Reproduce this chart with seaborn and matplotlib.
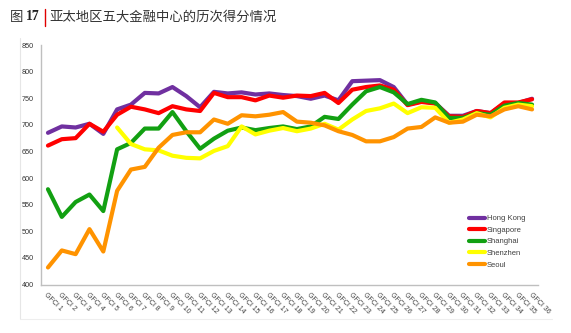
import numpy as np
import pandas as pd
import matplotlib
matplotlib.use("Agg")
import matplotlib.pyplot as plt
from matplotlib.lines import Line2D
import seaborn as sns

# GFCI rounds 1..36
rounds = [f"GFCI {i}" for i in range(1, 37)]

hong_kong = [685, 697, 695, 702, 683, 729, 738, 760, 759, 771, 754, 733,
             762, 759, 761, 757, 759, 756, 754, 749, 755, 746, 782, 783, 784,
             771, 738, 744, 741, 717, 717, 726, 722, 740, 741, 749]
singapore = [661, 673, 675, 702, 687, 719, 734, 729, 722, 735, 729, 726,
             760, 752, 752, 746, 755, 751, 755, 754, 760, 741, 766, 771, 774,
             766, 737, 743, 740, 716, 715, 726, 722, 742, 742, 748]
shanghai = [579, 527, 555, 569, 538, 654, 666, 693, 693, 724, 688, 655,
            674, 689, 695, 690, 694, 697, 692, 697, 715, 711, 738, 763, 771,
            761, 739, 747, 742, 713, 713, 722, 719, 736, 741, 738]
# Shenzhen enters the index from GFCI 6
shenzhen = [np.nan] * 5 + [695, 664, 654, 652, 642, 638, 637,
                           651, 660, 697, 682, 689, 694, 688, 693, 702, 691, 710, 726, 731,
                           740, 722, 733, 732, 704, 710, 722, 714, 732, 738, 735]
seoul = [432, 464, 457, 504, 462, 576, 616, 621, 657, 681, 686, 686,
         710, 702, 718, 716, 719, 724, 706, 704, 699, 688, 681, 669, 669,
         677, 693, 696, 714, 704, 706, 719, 716, 729, 735, 729]

cities = ["Hong Kong", "Singapore", "Shanghai", "Shenzhen", "Seoul"]
series = [hong_kong, singapore, shanghai, shenzhen, seoul]
colors = ["#7030a0", "#ff0000", "#12a012", "#ffff00", "#ff9300"]

rows = []
for city, vals in zip(cities, series):
    for i, v in enumerate(vals):
        if not np.isnan(v):
            rows.append({"idx": i, "city": city, "score": v})
df = pd.DataFrame(rows)

sns.set_theme(style="white")
plt.rcParams["font.family"] = ["Liberation Sans", "Noto Sans CJK SC", "DejaVu Sans"]

W, H = 571, 333
fig = plt.figure(figsize=(W / 100, H / 100), dpi=100)
fig.patch.set_facecolor("white")

ax_l, ax_r, ax_t, ax_b = 40.5, 538, 45, 284.5
ax = fig.add_axes([ax_l / W, 1 - ax_b / H, (ax_r - ax_l) / W, (ax_b - ax_t) / H])

sns.lineplot(data=df, x="idx", y="score", hue="city", hue_order=cities,
             palette=colors, linewidth=3, ax=ax, legend=False)

ax.set_xlim(-0.54, 35.43)
ax.set_ylim(400, 850)
ax.set_yticks(np.arange(400, 851, 50))
ax.set_yticklabels([str(v) for v in range(400, 851, 50)], fontsize=5.2, color="#333333")
ax.set_xticks(range(36))
ax.set_xticklabels(rounds, rotation=-45, ha="left", va="top",
                   rotation_mode="anchor", fontsize=5, color="#404040")
ax.tick_params(axis="y", length=0, pad=5)
ax.tick_params(axis="x", length=0, pad=5)
ax.set_xlabel("")
ax.set_ylabel("")
for side in ("top", "right"):
    ax.spines[side].set_visible(False)
for side in ("left", "bottom"):
    ax.spines[side].set_color("#bfbfbf")
    ax.spines[side].set_linewidth(1.0)

handles = [Line2D([0], [0], color=c, lw=3) for c in colors]
leg = ax.legend(handles, cities, loc="upper left",
                bbox_to_anchor=(469 / W, 1 - 215 / H), bbox_transform=fig.transFigure,
                frameon=False, fontsize=5.5, handlelength=2.1, handletextpad=0.25,
                labelspacing=0.55, borderpad=0, borderaxespad=0)
for t in leg.get_texts():
    t.set_color("#404040")

# faint outer frame on the left and bottom
fig.add_artist(Line2D([20 / W, 20 / W], [1 - 38 / H, 1 - 319 / H],
                      transform=fig.transFigure, color="#e6e6e6", lw=0.8))
fig.add_artist(Line2D([20 / W, 552 / W], [1 - 319 / H, 1 - 319 / H],
                      transform=fig.transFigure, color="#eeeeee", lw=0.8))

# heading
ty = 1 - 17 / H
fig.text(10 / W, ty, "图", fontsize=9.6, color="#333333", va="center", ha="left",
         family=["Noto Sans CJK SC"])
fig.text(26 / W, ty, "17", fontsize=9.8, color="#222222", va="center", ha="left",
         family=["Liberation Serif"], fontweight="bold")
fig.add_artist(Line2D([44.5 / W, 44.5 / W], [1 - 9 / H, 1 - 26 / H],
                      transform=fig.transFigure, color="#e00000", lw=1.0))
fig.text(49 / W, ty, "亚太地区五大金融中心的历次得分情况", fontsize=9.6,
         color="#333333", va="center", ha="left", family=["Noto Sans CJK SC"])

fig.savefig("out.png", dpi=100, facecolor="white")
